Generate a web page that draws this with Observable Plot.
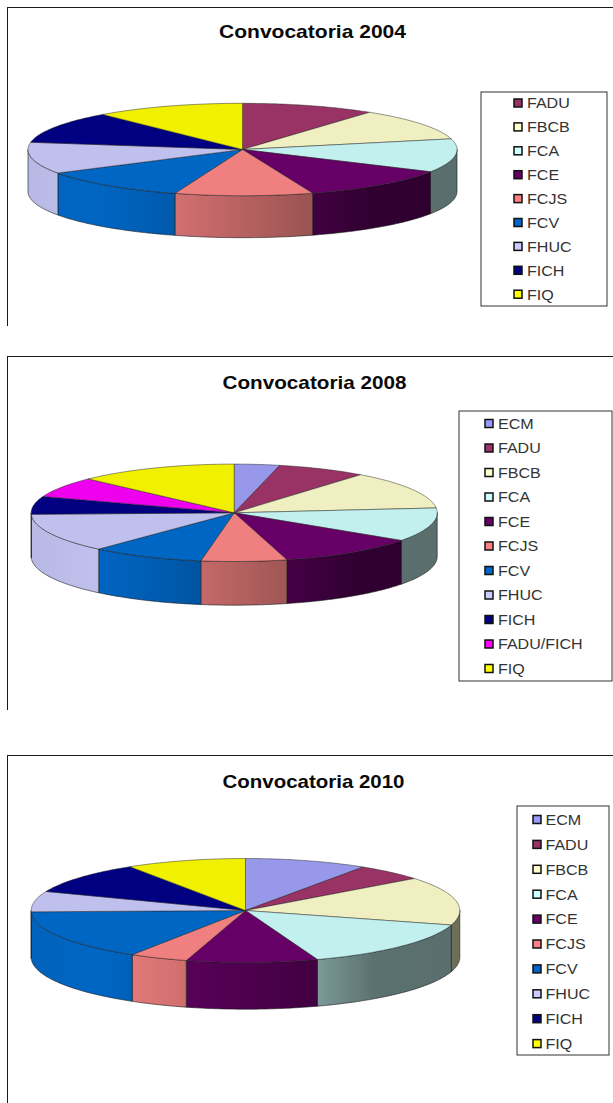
<!DOCTYPE html>
<html lang="es">
<head>
<meta charset="utf-8">
<script src="https://cdn.jsdelivr.net/npm/d3@7"></script>
<script src="https://cdn.jsdelivr.net/npm/@observablehq/plot@0.6"></script>
<style>
html,body{margin:0;padding:0;background:#fff}
svg{display:block}
</style>
</head>
<body>
<div id="charts"></div>
<script>
// Datos (porcentaje aproximado de cada facultad)
const categorias2004 = ["FADU","FBCB","FCA","FCE","FCJS","FCV","FHUC","FICH","FIQ"];
const valores2004 = [10.1,11.2,11.7,11.7,10.4,11.4,11.0,11.2,11.3];
const categorias2008 = ["ECM","FADU","FBCB","FCA","FCE","FCJS","FCV","FHUC","FICH","FADU/FICH","FIQ"];
const valores2008 = [3.6,7.1,12.7,11.2,11.2,6.8,9.0,12.87,5.93,6.8,12.75];
const categorias2010 = ["ECM","FADU","FBCB","FCA","FCE","FCJS","FCV","FHUC","FICH","FIQ"];
const valores2010 = [9.25,5.2,15.05,15.05,9.9,4.4,15.73,6.37,9.97,9.06];

// Estilos
const coloresLeyenda = {ECM:"#9999ff",FADU:"#993366",FBCB:"#ffffcc",FCA:"#ccffff",FCE:"#660066",FCJS:"#ff8080",FCV:"#0066cc",FHUC:"#ccccff",FICH:"#000080","FADU/FICH":"#ff00ff",FIQ:"#ffff00"};
const coloresTapa = {ECM:"#9898ea",FADU:"#993366",FBCB:"#efefc2",FCA:"#c1f0ee",FCE:"#660066",FCJS:"#f08080",FCV:"#0066c4",FHUC:"#c0c0ee",FICH:"#000080","FADU/FICH":"#ee00ee",FIQ:"#f0f000"};
const luzPos = [-1,-.7,-.3,.33,.6,1];
const luzVal = [.96,1,.87,.64,.47,.46];

// Disposición de cada panel
const paneles = [
  {id:"a",titulo:"Convocatoria 2004",ancho:187,cats:categorias2004,vals:valores2004,y0:0,y1:349,frameTop:7,frameBottom:326,
   cx:242,cy:149,rx:214.5,ry:46.2,depth:42,tx:312,ty:37,
   box:[481,607,92,306],swatch:[514,522],labelX:526.5,row0:103,rowStep:23.9},
  {id:"b",titulo:"Convocatoria 2008",ancho:184,cats:categorias2008,vals:valores2008,y0:349,y1:749,frameTop:356,frameBottom:710,
   cx:233.7,cy:512.3,rx:203,ry:48.7,depth:43.7,tx:314,ty:388,
   box:[459,612,411,681],swatch:[485,493],labelX:497.5,row0:423.5,rowStep:24.5},
  {id:"c",titulo:"Convocatoria 2010",ancho:182,cats:categorias2010,vals:valores2010,y0:749,y1:1103,frameTop:755,frameBottom:1103,
   cx:245,cy:910,rx:214.3,ry:52,depth:46.7,tx:313,ty:787.5,
   box:[517,609,806,1055],swatch:[533,541],labelX:545,row0:819.5,rowStep:24.9}
];

const PASO = Math.PI/180;
function muestras(a0,a1){
  const n = Math.max(1,Math.ceil((a1-a0)/PASO)), out=[];
  for(let i=0;i<=n;i++) out.push(a0+(a1-a0)*i/n);
  return out;
}
function oscurecer(hex,f){
  const c=d3.rgb(hex);
  return d3.rgb(c.r*f,c.g*f,c.b*f).formatHex();
}
function gradientes(p){
  return () => {
    const defs=d3.create("svg:defs");
    p.cats.forEach((cat,i)=>{
      const g=defs.append("linearGradient")
        .attr("id",`g-${p.id}-${i}`).attr("gradientUnits","userSpaceOnUse")
        .attr("x1",p.cx-p.rx).attr("x2",p.cx+p.rx).attr("y1",0).attr("y2",0);
      luzPos.forEach((u,k)=>g.append("stop")
        .attr("offset",(u+1)/2).attr("stop-color",oscurecer(coloresTapa[cat],luzVal[k])));
    });
    return defs.node();
  };
}

function panel(p){
  const arcos = d3.pie().sort(null).startAngle(0).endAngle(2*Math.PI)(p.vals);
  const px = t => p.cx + p.rx*Math.sin(t);
  const py = t => p.cy - p.ry*Math.cos(t);
  const tapas=[], paredes=[];
  arcos.forEach((a,i)=>{
    const cat=p.cats[i];
    const pts=[{x:p.cx,y:p.cy}];
    muestras(a.startAngle,a.endAngle).forEach(t=>pts.push({x:px(t),y:py(t)}));
    pts.push({x:p.cx,y:p.cy});
    pts.forEach(q=>tapas.push({...q,cat,fill:coloresTapa[cat]}));
    const t0=Math.max(a.startAngle,Math.PI/2), t1=Math.min(a.endAngle,3*Math.PI/2);
    if(t1>t0){
      const ts=muestras(t0,t1), borde=[];
      ts.forEach(t=>borde.push({x:px(t),y:py(t)}));
      ts.slice().reverse().forEach(t=>borde.push({x:px(t),y:py(t)+p.depth}));
      borde.push(borde[0]);
      borde.forEach(q=>paredes.push({...q,cat,fill:`url(#g-${p.id}-${i})`}));
    }
  });
  const filas=p.cats.map((cat,i)=>({cat,y:p.row0+i*p.rowStep}));
  const s=4;
  const svg = Plot.plot({
    width:613,height:p.y1-p.y0,margin:0,
    style:{display:"block",fontFamily:"'Liberation Sans',Arial,sans-serif",background:"#fff"},
    x:{domain:[0,613],range:[0,613],axis:null},
    y:{domain:[p.y0,p.y1],range:[0,p.y1-p.y0],axis:null},
    marks:[
      gradientes(p),
      Plot.ruleY([p.frameTop],{x1:7,x2:613,stroke:"#1a1a1a",strokeWidth:1}),
      Plot.ruleX([7],{y1:p.frameTop,y2:p.frameBottom,stroke:"#1a1a1a",strokeWidth:1}),
      Plot.text([p.titulo],{x:p.tx,y:p.ty,text:d=>d,fontSize:18.5,fontWeight:"bold",fill:"#0a0a0a",lineAnchor:"bottom",textAnchor:"middle",className:"titulo"}),
      Plot.line(paredes,{x:"x",y:"y",z:"cat",fill:"fill",stroke:"#1a1a1a",strokeWidth:.7,strokeOpacity:.85,curve:"linear"}),
      Plot.line(tapas,{x:"x",y:"y",z:"cat",fill:"fill",stroke:"#222",strokeWidth:.6,strokeOpacity:.8,curve:"linear"}),
      Plot.rect([p.box],{x1:d=>d[0],x2:d=>d[1],y1:d=>d[2],y2:d=>d[3],fill:"#fff",stroke:"#333",strokeWidth:1}),
      Plot.rect(filas,{x1:p.swatch[0],x2:p.swatch[1],y1:d=>d.y-s,y2:d=>d.y+s,fill:d=>coloresLeyenda[d.cat],stroke:"#111",strokeWidth:1.5}),
      Plot.text(filas,{x:p.labelX,y:"y",text:"cat",fontSize:15,fill:"#333",textAnchor:"start",lineAnchor:"middle"})
    ]
  });
  return svg;
}
const raiz=document.getElementById("charts");
paneles.forEach(p=>{
  const svg=panel(p);
  raiz.appendChild(svg);
  // El original está algo estirado en horizontal: se ensancha el texto ya medido
  d3.select(svg).selectAll("text").each(function(){
    const t=d3.select(this), txt=this.textContent;
    if(txt===p.titulo){
      t.attr("textLength",p.ancho).attr("lengthAdjust","spacingAndGlyphs");
    }else if(p.cats.includes(txt)){
      t.attr("textLength",this.getComputedTextLength()*1.07).attr("lengthAdjust","spacingAndGlyphs");
    }
  });
});
</script>
</body>
</html>
